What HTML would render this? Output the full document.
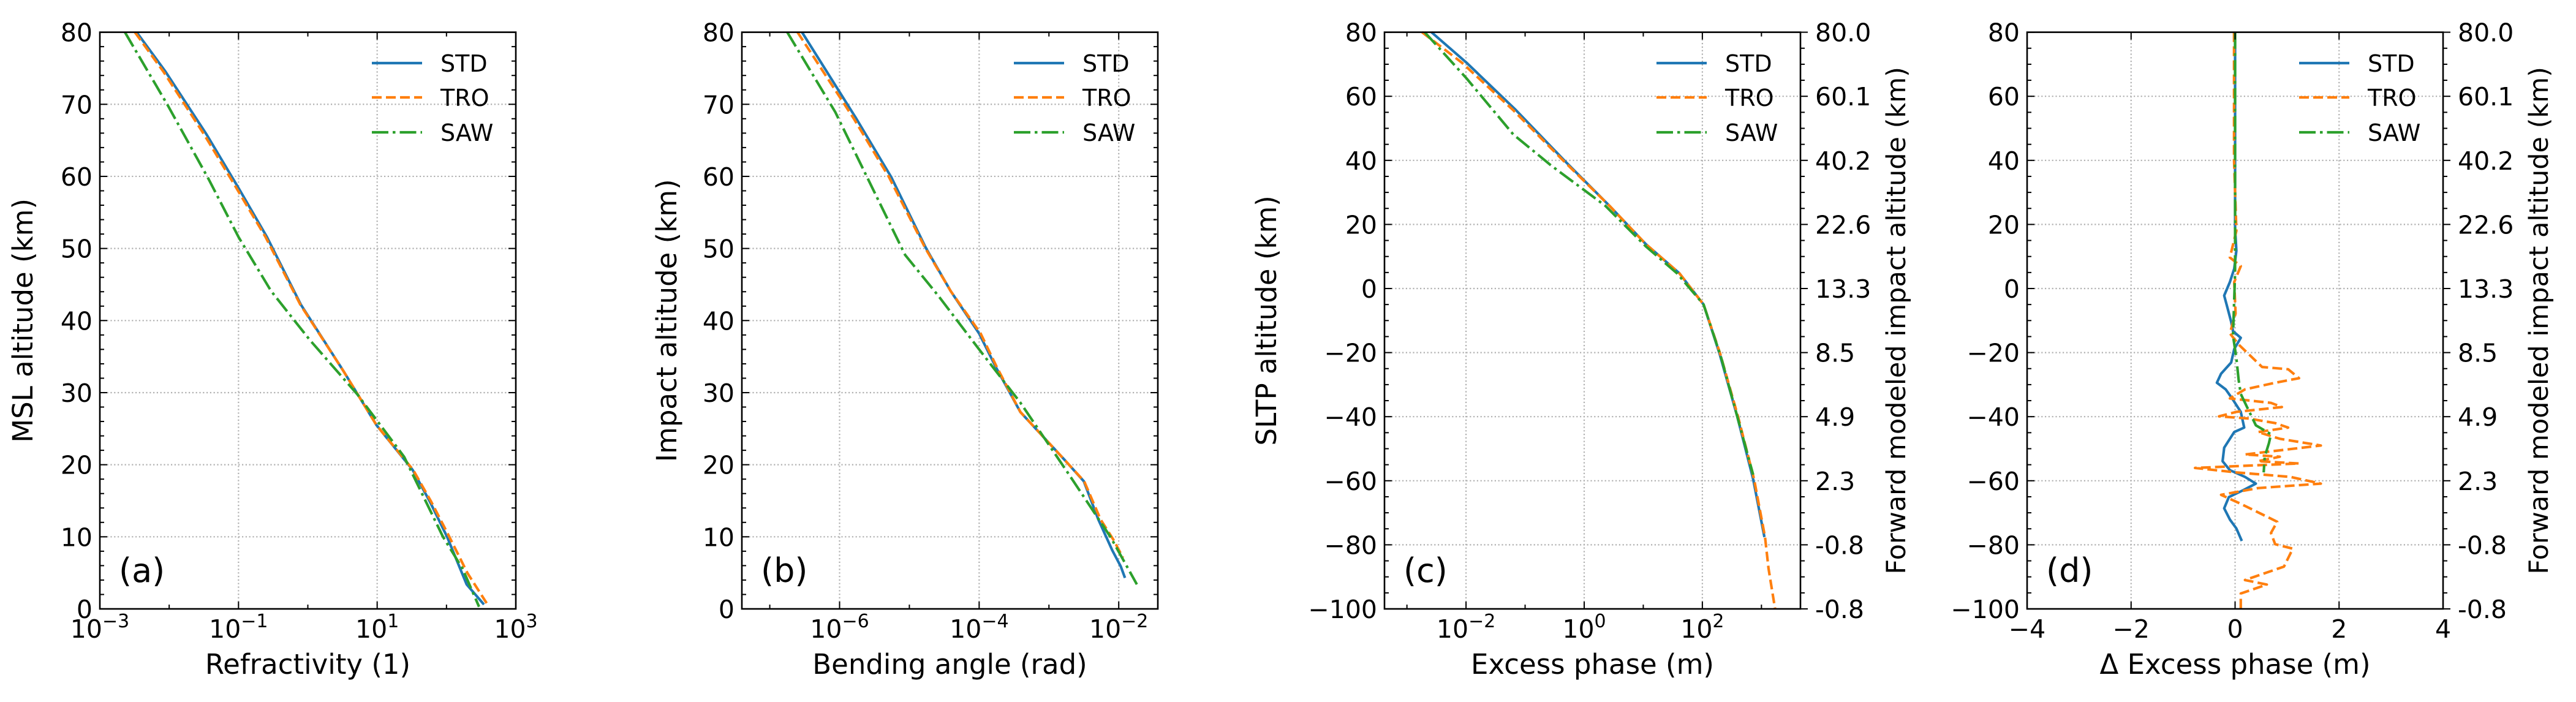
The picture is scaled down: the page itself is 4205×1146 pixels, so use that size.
<!DOCTYPE html>
<html><head><meta charset="utf-8">
<style>
html,body{margin:0;padding:0;background:#fff;}
svg{display:block;}
text{font-family:"DejaVu Sans","Liberation Sans",sans-serif;fill:#000;}
</style></head>
<body>
<svg id="fig" width="4205" height="1146" viewBox="0 0 4205 1146" xmlns="http://www.w3.org/2000/svg"></svg>
<script>
// ---------- Panel (a): Refractivity ----------
const aStdAlt = [80, 74.5, 65.8, 58.4, 51.6, 42.2, 32.9, 25.5, 19.3, 14.9, 10, 3.4, 0.6];
const aStdVal = [0.0034, 0.0089, 0.0347, 0.1, 0.257, 0.794, 3.31, 9.77, 32.4, 57.5, 102, 195, 347];
const aTroAlt = [80, 74.5, 65.8, 58.4, 51.6, 42.2, 32.9, 25.5, 19.3, 14.9, 10, 5, 0.8];
const aTroVal = [0.0032, 0.0083, 0.0320, 0.093, 0.245, 0.78, 3.31, 9.77, 33, 60, 110, 200, 380];
const aSawAlt = [80, 69.9, 59.6, 51.6, 44.1, 37.3, 29.8, 21.1, 10, 5.6, 0.3];
const aSawVal = [0.0023, 0.0095, 0.0372, 0.1, 0.295, 1.07, 5.13, 24.5, 89, 170, 295];
const aXTicks = [-3, -1, 1, 3];
const aYTicks = [0, 10, 20, 30, 40, 50, 60, 70, 80];

// ---------- Panel (b): Bending angle ----------
const bStdAlt = [80, 68, 59.9, 50, 44.1, 38.2, 33.5, 27.3, 20.5, 17.7, 12.4, 8.1, 5.9, 4.3];
const bStdVal = [2.9e-7, 1.74e-6, 5.5e-6, 1.74e-5, 3.9e-5, 1.0e-4, 1.74e-4, 3.9e-4, 1.74e-3, 3.16e-3, 5.1e-3, 8.1e-3, 1.07e-2, 1.23e-2];
const bTroAlt = [80, 68, 59.9, 50, 44.1, 38.2, 33.5, 27.3, 20.5, 17.7, 12.4, 9.5, 7.1];
const bTroVal = [2.5e-7, 1.6e-6, 5.1e-6, 1.7e-5, 3.9e-5, 1.05e-4, 1.8e-4, 3.9e-4, 1.74e-3, 3.2e-3, 5.5e-3, 8.5e-3, 1.15e-2];
const bSawAlt = [80, 68.9, 58.4, 49.1, 43.5, 36, 28.6, 18.6, 10, 3.4];
const bSawVal = [1.78e-7, 8.7e-7, 2.95e-6, 8.7e-6, 2.57e-5, 1.0e-4, 3.9e-4, 1.95e-3, 7.6e-3, 1.82e-2];
const bXTicks = [-6, -4, -2];
const bYTicks = [0, 10, 20, 30, 40, 50, 60, 70, 80];

// ---------- Panel (c): Excess phase ----------
const cStdAlt = [80, 70.5, 55.8, 39.8, 25.8, 13.9, 4.8, -5, -20.3, -39.9, -59.5, -77.6];
const cStdVal = [0.0026, 0.0102, 0.069, 0.47, 2.69, 11, 40.7, 105, 195, 389, 724, 1122];
const cTroAlt = [80, 70.5, 55.8, 39.8, 25.8, 13.9, 4.8, -5, -20.3, -39.9, -59.5, -77.6, -87.4, -100];
const cTroVal = [0.0018, 0.0085, 0.062, 0.45, 2.69, 11, 40.7, 105, 200, 400, 750, 1150, 1318, 1700];
const cSawAlt = [80, 65.6, 48.1, 38.3, 25.8, 13.2, 4.8, -5, -21.7, -58.1];
const cSawVal = [0.002, 0.0102, 0.063, 0.28, 2.29, 11, 37, 105, 209, 724];
const cXTicks = [-2, 0, 2];
const cYTicks = [-100, -80, -60, -40, -20, 0, 20, 40, 60, 80];
const cRightLabels = ["-0.8", "-0.8", "2.3", "4.9", "8.5", "13.3", "22.6", "40.2", "60.1", "80.0"];

// ---------- Panel (d): Delta excess phase ----------
const dStdAlt = [80, 40, 18.8, 11.8, 6.2, 2.0, -2.2, -6.4, -10.4, -13.3, -15.4, -18.9, -23.1, -26.6, -29.4, -31.5, -34.3, -38.5, -43.4, -44.8, -49.7, -53.9, -56.7, -58.8, -60.9, -63.0, -65.1, -68.6, -72.1, -74.9, -78.8];
const dStdVal = [0, 0, 0, 0.025, -0.017, -0.10, -0.21, -0.14, -0.075, -0.04, 0.11, -0.017, -0.075, -0.27, -0.35, -0.18, -0.058, 0.11, 0.175, -0.017, -0.21, -0.24, -0.10, 0.19, 0.40, 0.15, -0.12, -0.21, -0.10, 0.025, 0.13];
const dTroAlt = [80, 40, 18, 9.7, 7, 2, -7.8, -14, -17.5, -24.5, -25.2, -28, -29.4, -31.5, -34.3, -35.7, -37, -38.5, -39.9, -40.6, -42, -43.4, -44.8, -46.9, -49, -51.8, -52.5, -53.9, -54.6, -56, -57.4, -58.8, -60.9, -62.3, -64.4, -67.2, -72.8, -76.3, -79.8, -81.2, -86.8, -91, -92.4, -95.2, -100];
const dTroVal = [-0.02, -0.02, 0.025, -0.10, 0.11, -0.017, 0.01, -0.10, 0.07, 0.52, 1.02, 1.23, 0.77, 0.19, -0.10, 0.69, 0.90, 0.025, -0.31, 0.27, 0.77, 1.02, 0.44, 0.86, 1.65, 0.19, 0.86, 0.44, 1.23, -0.77, 0.025, 1.06, 1.65, 0.44, -0.27, 0.11, 0.81, 0.69, 0.77, 1.11, 0.94, 0.19, 0.61, 0.11, 0.11];
const dSawAlt = [80, 40, 15, 4.8, -14.7, -21.7, -28.7, -32.9, -37, -42.7, -45.5, -48.3, -52.5, -57.4];
const dSawVal = [0, 0, 0, 0, -0.04, 0.025, 0.07, 0.11, 0.23, 0.40, 0.69, 0.65, 0.57, 0.55];
const dXTicks = [-4, -2, 0, 2, 4];
const dYTicks = [-100, -80, -60, -40, -20, 0, 20, 40, 60, 80];
const dRightLabels = ["-0.8", "-0.8", "2.3", "4.9", "8.5", "13.3", "22.6", "40.2", "60.1", "80.0"];

const seriesNames = ["STD", "TRO", "SAW"];

// ---------- drawing ----------
const NS = "http://www.w3.org/2000/svg";
const fig = document.getElementById("fig");
const TOP = 52.6, BOT = 994, W = 679;
const COLORS = ["#1f77b4", "#ff7f0e", "#2ca02c"];
const DASH = ["", "16,7", "27,7,4.5,7"];
const LW = 4.2;

function mk(tag, attrs, parent) {
  const e = document.createElementNS(NS, tag);
  for (const k in attrs) e.setAttribute(k, attrs[k]);
  (parent || fig).appendChild(e);
  return e;
}
function sup(t, base, exp) {
  const s1 = document.createElementNS(NS, "tspan"); s1.textContent = base; t.appendChild(s1);
  const s2 = document.createElementNS(NS, "tspan"); s2.setAttribute("dy", "-17"); s2.setAttribute("font-size", "30"); s2.textContent = exp; t.appendChild(s2);
}

function panel(o) {
  const g = mk("g", {});
  
  
  const L = o.left, R = o.left + W;
  const xs = v => L + (v - o.xmin) / (o.xmax - o.xmin) * W;
  const ys = v => BOT - (v - o.ymin) / (o.ymax - o.ymin) * (BOT - TOP);
  const xv = v => xs(o.log ? Math.log10(v) : v);

  // grid
  const grid = mk("g", {}, g);
  
  
  o.xt.forEach(t => { const x = xs(t); if (x > L + 1 && x < R - 1) mk("line", {x1: x, x2: x, y1: TOP, y2: BOT, stroke: "#b0b0b0", "stroke-width": 2.2, "stroke-dasharray": "2.2,3.6"}, grid); });
  o.yt.forEach(t => { const y = ys(t); if (y > TOP + 1 && y < BOT - 1) mk("line", {x1: L, x2: R, y1: y, y2: y, stroke: "#b0b0b0", "stroke-width": 2.2, "stroke-dasharray": "2.2,3.6"}, grid); });

  // series
  o.series.forEach((s, i) => {
    const pts = s[0].map((a, j) => xv(s[1][j]).toFixed(1) + "," + ys(a).toFixed(1)).join(" ");
    const pl = mk("polyline", {points: pts, fill: "none", stroke: COLORS[i], "stroke-width": LW, "stroke-dasharray": DASH[i], "stroke-linejoin": "round"}, g);
    
    
  });

  // ticks
  const tk = mk("g", {stroke: "#000", "stroke-width": 2}, g);
  
  
  o.xt.forEach(t => { const x = xs(t); mk("line", {x1: x, x2: x, y1: BOT, y2: BOT - 12}, tk); mk("line", {x1: x, x2: x, y1: TOP, y2: TOP + 12}, tk); });
  (o.xminor || []).forEach(t => { const x = xs(t); mk("line", {x1: x, x2: x, y1: BOT, y2: BOT - 7}, tk); mk("line", {x1: x, x2: x, y1: TOP, y2: TOP + 7}, tk); });
  for (let v = o.ymin; v <= o.ymax + 0.001; v += o.yminor) {
    const y = ys(v), major = o.yt.some(t => Math.abs(t - v) < 0.01), len = major ? 12 : 7;
    mk("line", {x1: L, x2: L + len, y1: y, y2: y}, tk);
    if (o.right) mk("line", {x1: R, x2: R + len, y1: y, y2: y}, tk);
    else mk("line", {x1: R, x2: R - len, y1: y, y2: y}, tk);
  }
  // frame
  const fr = mk("rect", {x: L, y: TOP, width: W, height: BOT - TOP, fill: "none", stroke: "#000", "stroke-width": 2.6}, g);
  
  

  // x tick labels
  o.xt.forEach(t => {
    const tx = mk("text", {x: xs(t), y: 1041, "font-size": 41, "text-anchor": "middle"}, g);
    
    
    if (o.log) sup(tx, "10", (t < 0 ? "\u2212" : "") + Math.abs(t)); else tx.textContent = (t < 0 ? "\u2212" : "") + Math.abs(t);
  });
  // y tick labels
  o.yt.forEach(t => {
    const tx = mk("text", {x: L - 12, y: ys(t) + 15, "font-size": 41, "text-anchor": "end"}, g);
    
    
    tx.textContent = (t < 0 ? "\u2212" : "") + Math.abs(t);
  });
  if (o.right) {
    o.yt.forEach((t, i) => {
      const tx = mk("text", {x: R + 24, y: ys(t) + 15, "font-size": 41}, g);
      
      
      tx.textContent = o.right[i];
    });
    const rl = mk("text", {x: 0, y: 0, "font-size": 43, "text-anchor": "middle", transform: `translate(${R + 171},${(TOP + BOT) / 2}) rotate(-90)`}, g);
    
    
    rl.textContent = "Forward modeled impact altitude (km)";
  }
  // axis titles
  const xl = mk("text", {x: L + W / 2, y: 1100, "font-size": 45, "text-anchor": "middle"}, g);
  
  
  xl.textContent = o.xlabel;
  if (o.ylabel) {
    const yl = mk("text", {x: 0, y: 0, "font-size": 45, "text-anchor": "middle", transform: `translate(${L - o.ylOff},${(TOP + BOT) / 2}) rotate(-90)`}, g);
    
    
    yl.textContent = o.ylabel;
  }
  // panel label
  const pl = mk("text", {x: L + 31, y: 950, "font-size": 54}, g);
  
  
  pl.textContent = o.tag;
  // legend
  const lg = mk("g", {}, g);
  
  
  [103, 159, 216].forEach((y, i) => {
    const e = mk("g", {}, lg);
    
    
    mk("line", {x1: L + 444, x2: L + 526, y1: y, y2: y, stroke: COLORS[i], "stroke-width": LW, "stroke-dasharray": DASH[i]}, e);
    const t = mk("text", {x: L + 556, y: y + 14, "font-size": 38}, e);
    t.textContent = seriesNames[i];
  });
}

panel({name: "panel-a-refractivity", left: 163, log: true, xmin: -3, xmax: 3, ymin: 0, ymax: 80, xt: aXTicks, xminor: [-2, 0, 2], yt: aYTicks, yminor: 2,
  series: [[aStdAlt, aStdVal], [aTroAlt, aTroVal], [aSawAlt, aSawVal]], xlabel: "Refractivity (1)", ylabel: "MSL altitude (km)", ylOff: 110, tag: "(a)"});
panel({name: "panel-b-bending-angle", left: 1211, log: true, xmin: -7.4, xmax: -1.44, ymin: 0, ymax: 80, xt: bXTicks, xminor: [-7, -5, -3], yt: bYTicks, yminor: 2,
  series: [[bStdAlt, bStdVal], [bTroAlt, bTroVal], [bSawAlt, bSawVal]], xlabel: "Bending angle (rad)", ylabel: "Impact altitude (km)", ylOff: 107, tag: "(b)"});
panel({name: "panel-c-excess-phase", left: 2260, log: true, xmin: -3.38, xmax: 3.66, ymin: -100, ymax: 80, xt: cXTicks, xminor: [-3, -1, 1, 3], yt: cYTicks, yminor: 5,
  series: [[cStdAlt, cStdVal], [cTroAlt, cTroVal], [cSawAlt, cSawVal]], xlabel: "Excess phase (m)", ylabel: "SLTP altitude (km)", ylOff: 177, tag: "(c)", right: cRightLabels});
panel({name: "panel-d-delta-excess-phase", left: 3309, log: false, xmin: -4, xmax: 4, ymin: -100, ymax: 80, xt: dXTicks, yt: dYTicks, yminor: 5,
  series: [[dStdAlt, dStdVal], [dTroAlt, dTroVal], [dSawAlt, dSawVal]], xlabel: "\u0394 Excess phase (m)", ylabel: null, tag: "(d)", right: dRightLabels});
</script>
</body></html>
